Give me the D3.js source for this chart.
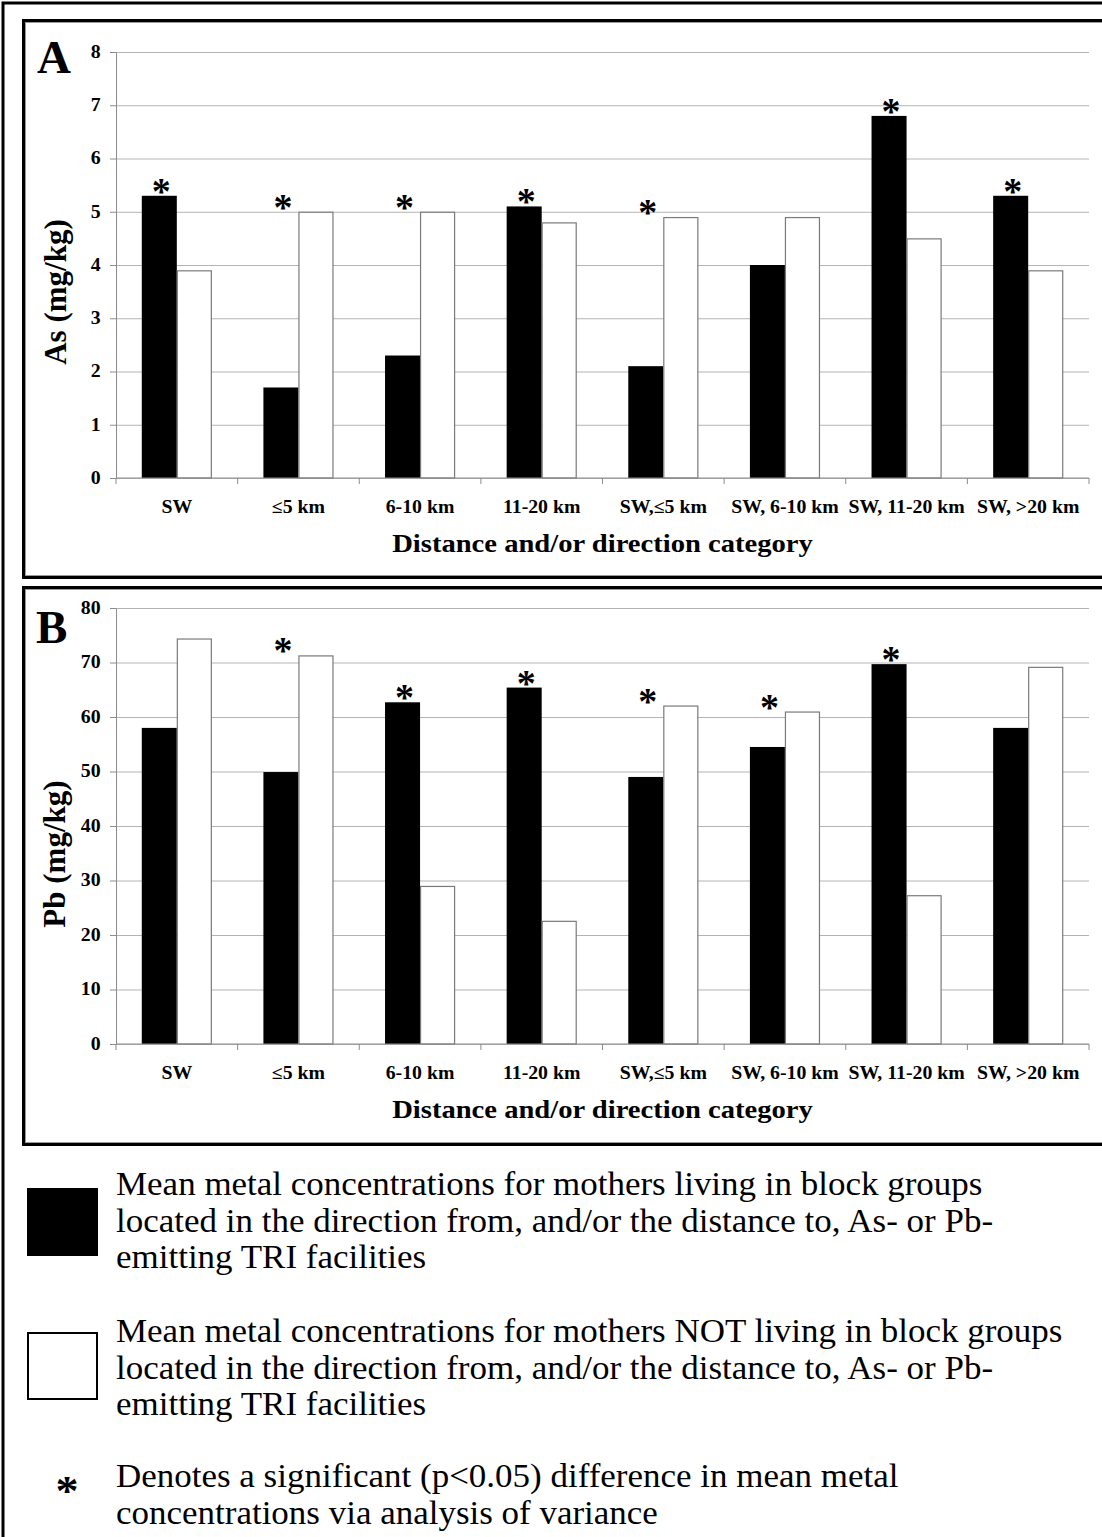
<!DOCTYPE html>
<html>
  <head>
    <title>As and Pb by distance / direction</title>
    <script src="https://d3js.org/d3.v7.min.js"></script>
    <style>
      body { margin: 0; background: #fff; }
      svg { display: block; font-family: "Liberation Serif", "Times New Roman", serif; }
      .grid .tick line { stroke: #b4b4b4; stroke-width: 1px; }
      .grid .domain { display: none; }
      .axis .domain { stroke: #8c8c8c; }
      .axis .tick line { stroke: #8c8c8c; }
      .axis .tick text { font-size: 18px; font-weight: bold; fill: #000; }
      .axis__label { font-weight: bold; fill: #000; }
    </style>
  </head>
  <body>
    <svg width="1102" height="1537"></svg>
    <script>
      // values
      const categories = ["SW", "≤5 km", "6-10 km", "11-20 km", "SW,≤5 km", "SW, 6-10 km", "SW, 11-20 km", "SW, >20 km"];
      const asLiving    = [5.3, 1.7, 2.3, 5.1, 2.1, 4.0, 6.8, 5.3];
      const asNotLiving = [3.9, 5.0, 5.0, 4.8, 4.9, 4.9, 4.5, 3.9];
      const asSignif    = [true, true, true, true, true, false, true, true];
      const pbLiving    = [58.0, 49.9, 62.7, 65.4, 49.0, 54.5, 69.7, 58.0];
      const pbNotLiving = [74.4, 71.3, 29.0, 22.6, 62.1, 61.0, 27.3, 69.2];
      const pbSignif    = [false, true, true, true, true, true, true, false];
      const asTicks = [0, 1, 2, 3, 4, 5, 6, 7, 8];
      const pbTicks = [0, 10, 20, 30, 40, 50, 60, 70, 80];
      const xLabel = "Distance and/or direction category";
      const legendLiving = ["Mean metal concentrations for mothers living in block groups",
        "located in the direction from, and/or the distance to, As- or Pb-",
        "emitting TRI facilities"];
      const legendNotLiving = ["Mean metal concentrations for mothers NOT living in block groups",
        "located in the direction from, and/or the distance to, As- or Pb-",
        "emitting TRI facilities"];
      const legendStar = ["Denotes a significant (p<0.05) difference in mean metal",
        "concentrations via analysis of variance"];

      const SX = 1.1; // the source figure is a little stretched sideways
      const svg = d3.select("svg");
      const plotLeft = 116, plotRight = 1089;

      // page frame
      svg.append("rect")
        .attr("x", 3).attr("y", 3).attr("width", 1120).attr("height", 1560)
        .attr("fill", "none").attr("stroke", "#000").attr("stroke-width", 3);

      function frame(y0, y1) {
        svg.append("rect")
          .attr("x", 23.5).attr("y", y0 + 1.5).attr("width", 1110).attr("height", y1 - y0 - 3)
          .attr("fill", "none").attr("stroke", "#000").attr("stroke-width", 3);
        svg.append("rect")
          .attr("x", 25.5).attr("y", y0 + 3.5).attr("width", 1110).attr("height", y1 - y0 - 7)
          .attr("fill", "none").attr("stroke", "#9a9a9a").attr("stroke-width", 1);
      }

      function stretchText(sel, x, y, size, weight, txt, sx = SX) {
        return sel.append("text")
          .attr("transform", `translate(${x},${y}) scale(${sx},1)`)
          .attr("font-size", size)
          .attr("font-weight", weight)
          .text(txt);
      }

      function panel(cfg) {
        frame(cfg.frameTop, cfg.frameBottom);

        const xScale = d3.scaleBand()
          .domain(categories)
          .range([plotLeft, plotRight])
          .paddingInner(0.424)
          .paddingOuter(0.212);
        const x1 = d3.scaleBand()
          .domain(["living", "not"])
          .range([0, xScale.bandwidth()]);
        const yScale = d3.scaleLinear()
          .domain([0, d3.max(cfg.ticks)])
          .range([cfg.yBottom, cfg.yTop]);

        // gridlines
        svg.append("g")
          .attr("class", "grid")
          .attr("transform", `translate(${plotLeft},0)`)
          .call(d3.axisLeft(yScale).tickValues(cfg.ticks)
            .tickSize(-(plotRight - plotLeft)).tickFormat(""));

        // y axis
        const yAxisG = svg.append("g")
          .attr("class", "axis")
          .attr("transform", `translate(${plotLeft},0)`)
          .call(d3.axisLeft(yScale).tickValues(cfg.ticks)
            .tickSizeInner(6).tickSizeOuter(0).tickPadding(8))
          .attr("font-family", null)
          .attr("font-size", null);
        yAxisG.selectAll(".tick text")
          .attr("transform", `scale(${SX},1)`)
          .attr("dy", "0.3em");

        const rows = categories.map((c, i) => ({
          cat: c, living: cfg.living[i], not: cfg.not[i], sig: cfg.sig[i]
        }));

        const groups = svg.append("g").selectAll("g")
          .data(rows)
          .join("g")
            .attr("transform", d => `translate(${xScale(d.cat)},0)`);

        groups.append("rect")
          .attr("x", x1("living"))
          .attr("y", d => yScale(d.living))
          .attr("width", x1.bandwidth())
          .attr("height", d => yScale(0) - yScale(d.living))
          .attr("fill", "#000");

        groups.append("rect")
          .attr("x", x1("not") + 0.5)
          .attr("y", d => yScale(d.not) + 0.5)
          .attr("width", x1.bandwidth() - 1)
          .attr("height", d => yScale(0) - yScale(d.not) - 0.5)
          .attr("fill", "#fff")
          .attr("stroke", "#7a7a7a")
          .attr("stroke-width", 1.2);

        groups.filter(d => d.sig)
          .append("text")
          .attr("x", x1.bandwidth() / 2 + 2)
          .attr("y", d => yScale(Math.max(d.living, d.not)) + 8)
          .attr("text-anchor", "middle")
          .attr("font-size", 38)
          .attr("font-weight", "bold")
          .text("*");

        // x axis: line, boundary ticks, labels
        const xAxisG = svg.append("g")
          .attr("class", "axis")
          .attr("transform", `translate(0,${cfg.yBottom})`)
          .call(d3.axisBottom(xScale).tickSize(0).tickPadding(22))
          .attr("font-family", null)
          .attr("font-size", null);
        xAxisG.select(".domain").attr("d", `M${plotLeft},0H${plotRight}`);
        xAxisG.selectAll(".tick text")
          .attr("transform", `scale(${SX},1)`);
        const edges = d3.range(categories.length + 1)
          .map(i => plotLeft + i * xScale.step());
        xAxisG.selectAll(".edge")
          .data(edges)
          .join("line")
            .attr("class", "edge")
            .attr("x1", d => d).attr("x2", d => d)
            .attr("y1", 0).attr("y2", 6)
            .attr("stroke", "#8c8c8c");

        stretchText(svg, (plotLeft + plotRight) / 2, cfg.yBottom + 74, 26, "bold", xLabel)
          .attr("text-anchor", "middle");

        svg.append("text")
          .attr("class", "axis__label")
          .attr("transform", `translate(${cfg.yLabelX},${cfg.yLabelY}) rotate(-90)`)
          .attr("text-anchor", "middle")
          .attr("font-size", 31)
          .text(cfg.yLabel);

        svg.append("text")
          .attr("x", cfg.letterX).attr("y", cfg.letterY)
          .attr("font-size", 47)
          .attr("font-weight", "bold")
          .text(cfg.letter);
      }

      panel({
        frameTop: 19, frameBottom: 579, yTop: 52, yBottom: 478,
        ticks: asTicks, living: asLiving, not: asNotLiving, sig: asSignif,
        yLabel: "As (mg/kg)", yLabelX: 66, yLabelY: 292,
        letter: "A", letterX: 37, letterY: 73
      });
      panel({
        frameTop: 586, frameBottom: 1146, yTop: 608, yBottom: 1044,
        ticks: pbTicks, living: pbLiving, not: pbNotLiving, sig: pbSignif,
        yLabel: "Pb (mg/kg)", yLabelX: 65, yLabelY: 854,
        letter: "B", letterX: 36, letterY: 643
      });

      // legend
      const legend = svg.append("g");
      legend.append("rect")
        .attr("x", 27).attr("y", 1188).attr("width", 71).attr("height", 68)
        .attr("fill", "#000");
      legend.append("rect")
        .attr("x", 28).attr("y", 1333).attr("width", 69).attr("height", 66)
        .attr("fill", "#fff").attr("stroke", "#000").attr("stroke-width", 2);
      stretchText(legend, 67, 1505, 42, "bold", "*", 1.1).attr("text-anchor", "middle");

      const lineH = 36.5;
      [[legendLiving, 1195], [legendNotLiving, 1342], [legendStar, 1487]].forEach(([lines, y0]) => {
        lines.forEach((t, i) => {
          stretchText(legend, 116, y0 + i * lineH, 33, "normal", t, 1.06);
        });
      });
    </script>
  </body>
</html>
